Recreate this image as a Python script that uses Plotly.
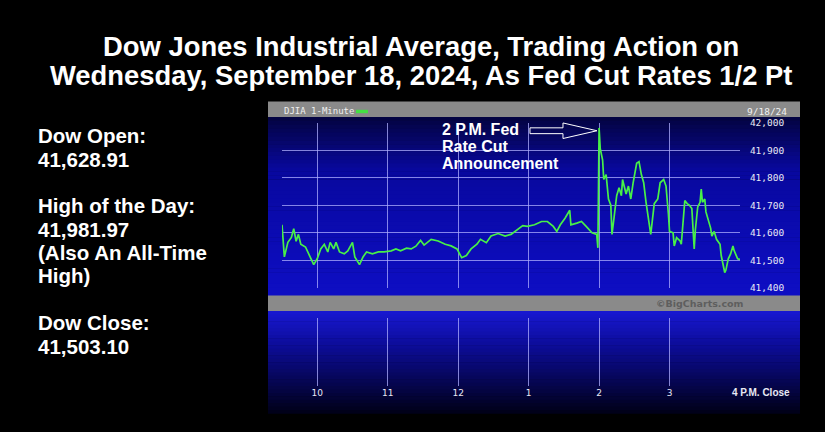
import plotly.graph_objects as go

# DJIA 1-minute, 9/18/2024 (minutes after 9:30 open, index level)
minutes = [0, 1, 2, 5, 8, 10, 12, 14, 16, 20, 24, 27, 30, 33, 36, 39, 41, 44, 46, 49,
           53, 56, 60, 62, 66, 69, 72, 77, 82, 87, 93, 97, 101, 106, 110, 114, 118, 121,
           127, 133, 139, 144, 149, 153, 157, 161, 166, 169, 174, 178, 184, 190, 195,
           200, 205, 209, 215, 221, 226, 231, 234, 237, 241, 245, 246, 251, 255, 259,
           264, 268, 269, 270, 271, 273, 274, 276, 278, 280, 281, 283, 285, 287, 289,
           290, 293, 295, 297, 299, 302, 304, 306, 308, 310, 314, 316, 317, 320, 322,
           325, 327, 329, 330, 333, 334, 336, 339, 340, 342, 343, 345, 347, 349, 351,
           352, 354, 356, 357, 358, 360, 361, 363, 365, 366, 368, 370, 373, 374, 377,
           378, 380, 382, 384, 385, 386, 388, 390]
djia = [41629, 41545, 41512, 41565, 41583, 41615, 41569, 41594, 41558, 41548, 41512,
        41484, 41505, 41541, 41558, 41530, 41565, 41541, 41565, 41530, 41523, 41534,
        41565, 41512, 41484, 41512, 41530, 41523, 41530, 41530, 41534, 41541, 41534,
        41544, 41541, 41551, 41572, 41555, 41576, 41570, 41558, 41552, 41541, 41509,
        41517, 41541, 41558, 41576, 41564, 41588, 41597, 41588, 41594, 41611, 41626,
        41623, 41629, 41641, 41641, 41623, 41605, 41629, 41653, 41682, 41629, 41635,
        41641, 41623, 41600, 41594, 41545, 41982, 41906, 41865, 41794, 41812, 41723,
        41700, 41594, 41664, 41735, 41764, 41735, 41794, 41741, 41770, 41723, 41782,
        41853, 41859, 41812, 41782, 41711, 41594, 41676, 41706, 41723, 41782, 41794,
        41770, 41670, 41605, 41600, 41552, 41582, 41570, 41558, 41647, 41717, 41706,
        41700, 41688, 41541, 41611, 41694, 41711, 41759, 41711, 41723, 41676, 41647,
        41617, 41588, 41605, 41576, 41558, 41517, 41455, 41464, 41505, 41523, 41552,
        41535, 41523, 41505, 41503]

hour_ticks = [30, 90, 150, 210, 270, 330, 390]
hour_labels = ["10", "11", "12", "1", "2", "3", ""]

title_lines = ["Dow Jones Industrial Average, Trading Action on",
               "Wednesday, September 18, 2024, As Fed Cut Rates 1/2 Pt"]
side_lines = ["Dow Open:", "41,628.91", "", "High of the Day:", "41,981.97",
              "(Also An All-Time", "High)", "", "Dow Close:", "41,503.10"]
fed_lines = ["2 P.M. Fed", "Rate Cut", "Announcement"]

W, H = 825, 432


def px(x):
    return x / W


def py(y):
    return 1 - y / H


def mix(stops, t):
    for (t0, c0), (t1, c1) in zip(stops, stops[1:]):
        if t <= t1:
            f = (t - t0) / (t1 - t0)
            return "rgb(%d,%d,%d)" % tuple(round(a + (b - a) * f) for a, b in zip(c0, c1))
    return "rgb(%d,%d,%d)" % stops[-1][1]


shapes = []


def gradient(y0, y1, stops, n):
    step = (y1 - y0) / n
    for i in range(n):
        shapes.append(dict(type="rect", xref="paper", yref="paper", layer="below",
                           x0=px(268), x1=px(800), y0=py(y0 + i * step), y1=py(y0 + (i + 1) * step + 0.5),
                           fillcolor=mix(stops, (i + 0.5) / n), line_width=0))


upper = [(0, (4, 4, 64)), (0.3, (8, 8, 158)), (1, (14, 14, 196))]
lower = [(0, (24, 24, 210)), (0.35, (12, 12, 150)), (1, (0, 0, 22))]
gradient(114, 297, upper, 46)
gradient(313, 418, lower, 30)

# header bar and copyright band
shapes.append(dict(type="rect", xref="paper", yref="paper", layer="below", x0=px(268), x1=px(800),
                   y0=py(98), y1=py(114), fillcolor="#8a8a8a", line_width=0))
shapes.append(dict(type="rect", xref="paper", yref="paper", layer="below", x0=px(268), x1=px(800),
                   y0=py(297), y1=py(313), fillcolor="#8a8a8a", line_width=0))
shapes.append(dict(type="rect", xref="paper", yref="paper", x0=px(356), x1=px(368),
                   y0=py(106.5), y1=py(110), fillcolor="#44e044", line_width=0))

# hollow arrow pointing at the 2 pm spike
pts = [(530, 125), (563, 125), (563, 120), (597, 128), (563, 136), (563, 131), (530, 131)]
path = "M " + " L ".join("%.4f,%.4f" % (px(a), py(b)) for a, b in pts) + " Z"
shapes.append(dict(type="path", xref="paper", yref="paper", path=path,
                   line=dict(color="white", width=1)))

fig = go.Figure()
fig.add_trace(go.Scatter(x=minutes, y=djia, mode="lines", line=dict(color="#48f048", width=1.7),
                         xaxis="x", yaxis="y", hoverinfo="skip"))
fig.add_trace(go.Scatter(x=[], y=[], xaxis="x2", yaxis="y2"))

grid = "rgba(175,175,255,0.75)"
annos = []
for i, t in enumerate(title_lines):
    annos.append(dict(text="<b>%s</b>" % t, x=px(421), y=py(42 + 29 * i), xref="paper", yref="paper",
                      showarrow=False, xanchor="center", yanchor="middle",
                      font=dict(family="Liberation Sans, Arial", size=27.4, color="white")))
for i, t in enumerate(side_lines):
    if t:
        annos.append(dict(text="<b>%s</b>" % t, x=px(36), y=py(133 + 24 * i), xref="paper", yref="paper",
                          showarrow=False, xanchor="left", yanchor="middle",
                          font=dict(family="Liberation Sans, Arial", size=20.5, color="white")))
for i, t in enumerate(fed_lines):
    annos.append(dict(text="<b>%s</b>" % t, x=px(440), y=py(127 + 17.5 * i), xref="paper", yref="paper",
                      showarrow=False, xanchor="left", yanchor="middle",
                      font=dict(family="Liberation Sans, Arial", size=16, color="white")))
annos.append(dict(text="DJIA 1-Minute", x=px(282), y=py(108), xref="paper", yref="paper",
                  showarrow=False, xanchor="left", yanchor="middle",
                  font=dict(family="DejaVu Sans Mono", size=9, color="#f0f0f0")))
annos.append(dict(text="9/18/24", x=px(789), y=py(108), xref="paper", yref="paper",
                  showarrow=False, xanchor="right", yanchor="middle",
                  font=dict(family="DejaVu Sans Mono", size=9.5, color="#f0f0f0")))
annos.append(dict(text="<b>©BigCharts.com</b>", x=px(700), y=py(305), xref="paper", yref="paper",
                  showarrow=False, xanchor="center", yanchor="middle",
                  font=dict(family="DejaVu Sans", size=9.5, color="#5e5e5e")))
annos.append(dict(text="<b>4 P.M. Close</b>", x=px(761), y=py(397), xref="paper", yref="paper",
                  showarrow=False, xanchor="center", yanchor="middle",
                  font=dict(family="Liberation Sans, Arial", size=10, color="#e8e8f4")))

fig.update_layout(
    width=W, height=H, margin=dict(l=0, r=0, t=0, b=0),
    paper_bgcolor="black", plot_bgcolor="rgba(0,0,0,0)", showlegend=False,
    shapes=shapes, annotations=annos,
    xaxis=dict(domain=[px(282), px(740)], range=[0, 390], anchor="y", tickvals=hour_ticks[:-1],
               showticklabels=False, showgrid=True, gridcolor=grid, gridwidth=1, zeroline=False),
    yaxis=dict(domain=[py(289), py(120)], range=[41400, 42000], anchor="x", side="right",
               dtick=100, tickformat=",", showgrid=True, gridcolor=grid, gridwidth=1, zeroline=False,
               ticks="outside", ticklen=7, tickcolor="rgba(0,0,0,0)",
               tickfont=dict(family="DejaVu Sans Mono", size=9.5, color="#e8e8f4")),
    xaxis2=dict(domain=[px(282), px(740)], range=[0, 390], anchor="y2", tickvals=hour_ticks,
                ticktext=hour_labels, showgrid=True, gridcolor=grid, gridwidth=1, zeroline=False,
                tickfont=dict(family="DejaVu Sans", size=9, color="#e8e8f4")),
    yaxis2=dict(domain=[py(390), py(320)], range=[0, 1], anchor="x2", showgrid=False,
                showticklabels=False, zeroline=False),
)

fig.write_html("out.html", config={"displayModeBar": False},
               post_script="document.body.style.margin='0';document.body.style.background='black';")
